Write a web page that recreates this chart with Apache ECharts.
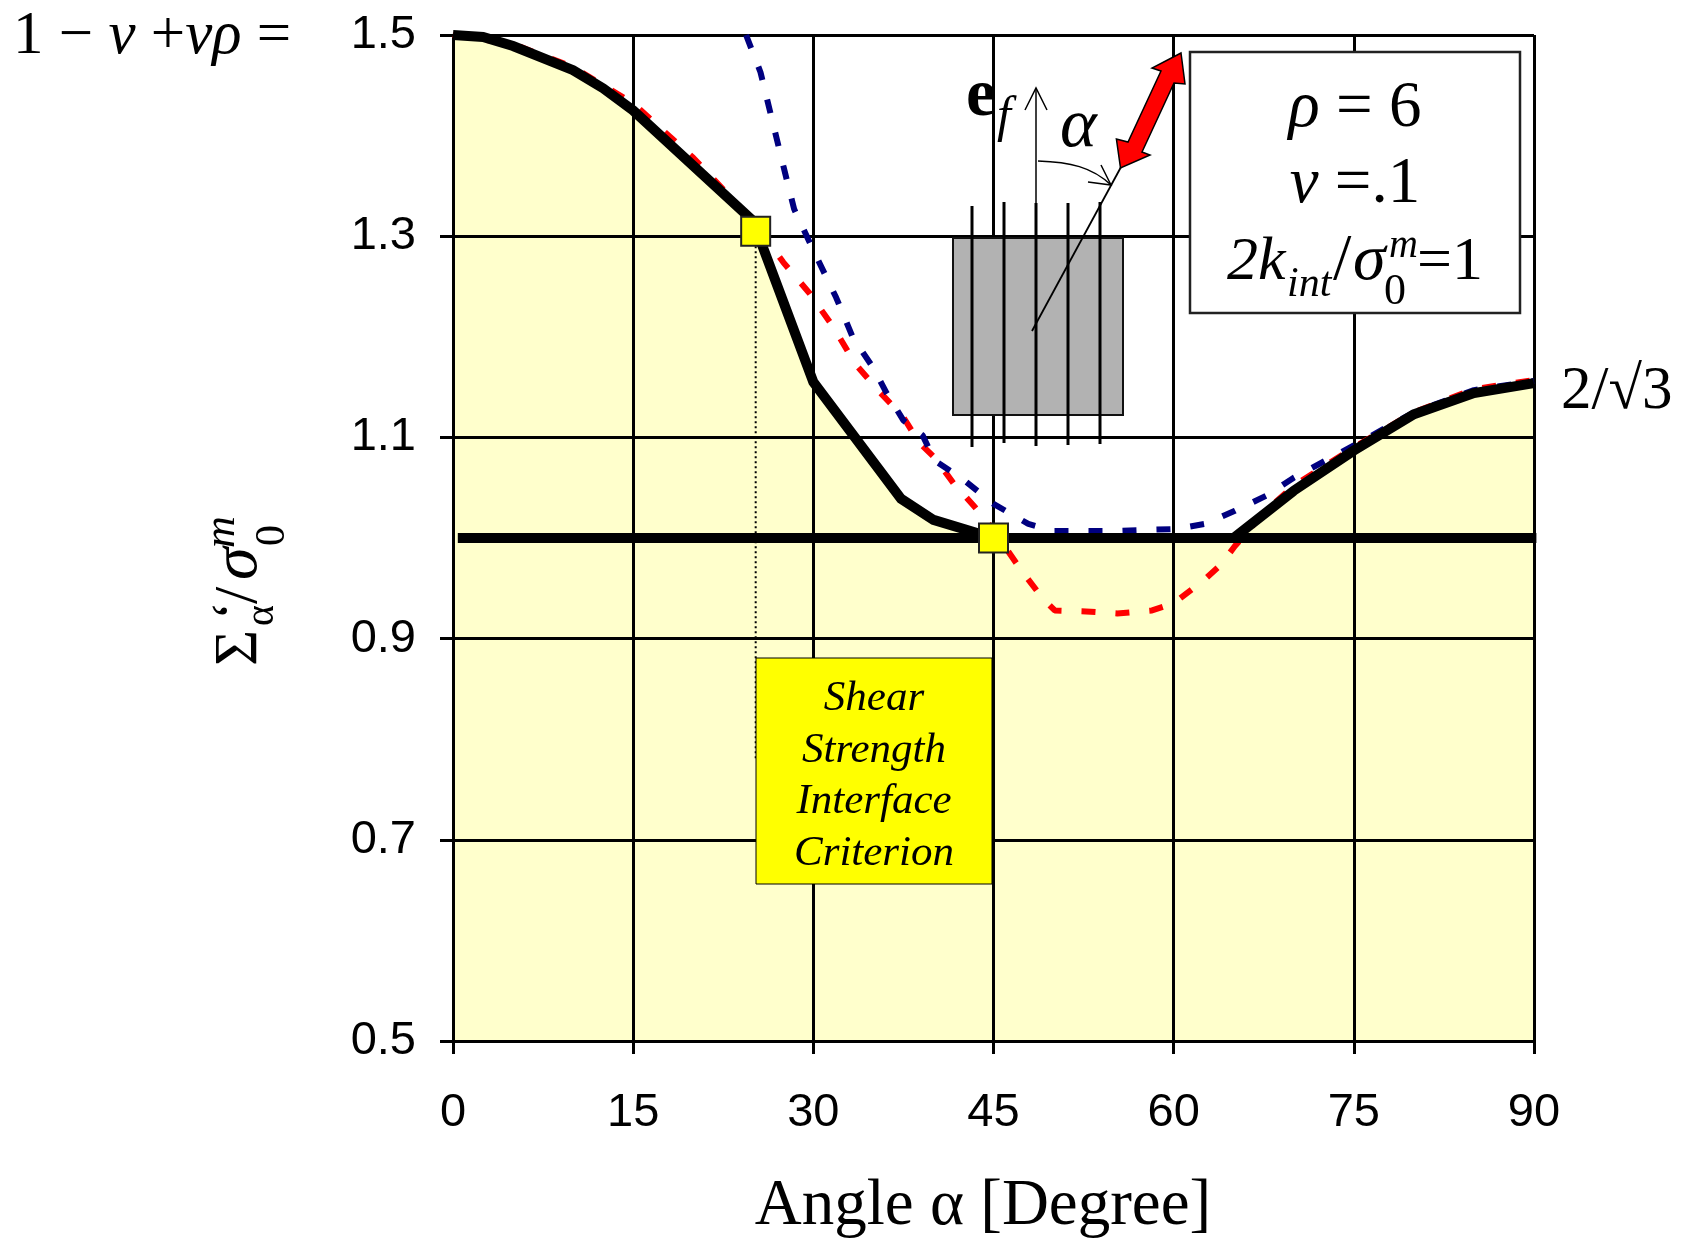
<!DOCTYPE html>
<html><head><meta charset="utf-8">
<style>html,body{margin:0;padding:0;background:#fff}#c{width:1683px;height:1238px}</style>
<script src="https://cdn.jsdelivr.net/npm/echarts@6/dist/echarts.min.js"></script>
</head><body><div id="c"></div>
<script>
const xTicks = [0, 15, 30, 45, 60, 75, 90];
const yTicks = [0.5, 0.7, 0.9, 1.1, 1.3, 1.5];
const blackAngles = [0, 2.5, 5, 10, 12.5, 15, 20, 25, 25.3, 30, 37.3, 40, 45, 65, 70, 75, 80, 85, 90];
const blackValues = [1.5, 1.498, 1.489, 1.465, 1.447, 1.425, 1.37, 1.315, 1.305, 1.155, 1.039, 1.018, 1.0, 1.0, 1.047, 1.087, 1.123, 1.144, 1.154];
const redAngles = [0, 5, 10, 15, 20, 25, 27.5, 29.7, 31.7, 33.5, 35.3, 37.5, 38.8, 40.1, 41.7, 43.5, 45, 47.3, 49.1, 50.1, 52.7, 55.3, 58.2, 60, 62.4, 63.9, 65.1, 67.5, 70, 75, 80, 85, 90];
const redValues = [1.5, 1.491, 1.468, 1.432, 1.378, 1.315, 1.274, 1.243, 1.209, 1.173, 1.148, 1.12, 1.095, 1.08, 1.054, 1.03, 1.008, 0.968, 0.94, 0.928, 0.927, 0.925, 0.928, 0.935, 0.957, 0.973, 0.992, 1.025, 1.052, 1.09, 1.125, 1.148, 1.157];
const blueAngles = [24.4, 25.6, 27.5, 28.4, 30, 31.9, 33.3, 35, 36.1, 37.5, 39.1, 40.1, 42.4, 45, 47.9, 50, 55, 60.2, 62.6, 65.1, 67.7, 70, 75, 80, 85, 90];
const blueValues = [1.5, 1.463, 1.37, 1.327, 1.286, 1.239, 1.199, 1.169, 1.144, 1.117, 1.102, 1.077, 1.059, 1.034, 1.014, 1.007, 1.007, 1.009, 1.014, 1.027, 1.042, 1.06, 1.092, 1.125, 1.147, 1.156];
const thresholdAngles = [0.4, 90.2];
const thresholdValues = [1, 1];
const dropAngles = [25.2, 25.2];
const dropValues = [1.305, 0.78];
const pointAngles = [25.2, 45];
const pointValues = [1.305, 1.0];
const boxLines = ['Shear', 'Strength', 'Interface', 'Criterion'];

const zip = (a, b) => a.map((v, i) => [v, b[i]]);
const SERIF = '"Liberation Serif", serif';
const Z = 20;
function t(text, x, base, size, o) {
  o = o || {};
  return { type: 'text', x: x, y: base - 0.3 * size, z: Z + 2, silent: true,
    style: { text: text, font: (o.style || '') + ' ' + (o.weight || '') + ' ' + size + 'px ' + SERIF,
      fill: o.fill || '#000', align: o.align || 'left', verticalAlign: 'middle', rich: o.rich } };
}
function line(x1, y1, x2, y2, w, c) {
  return { type: 'line', z: Z + 1, silent: true, shape: { x1, y1, x2, y2 }, style: { stroke: c || '#000', lineWidth: w } };
}
const I = s => ({ fontStyle: 'italic', fontFamily: '"Liberation Serif"', fontSize: s });
const N = s => ({ fontFamily: '"Liberation Serif"', fontSize: s });

const graphics = [
  { type: 'text', x: 13, y: 37, z: Z, style: { text: '{n|1 − }{i|v}{n| +}{i|vρ}{n| =}', rich: { n: N(61), i: I(61) }, verticalAlign: 'middle' } },
  { type: 'text', x: 1561, y: 392, z: Z, style: { text: '{n|2/√3}', rich: { n: N(61) }, verticalAlign: 'middle' } },
  t('Angle α [Degree]', 983, 1226, 65, { align: 'center' }),
  { type: 'group', x: 258, y: 666, rotation: Math.PI / 2, children: [
    t('Σ', 0, 0, 62),
    t('α', 40, 16, 40),
    t('‘', 46, -6, 56),
    t('/', 62, 0, 62),
    t('σ', 86, 0, 66, { style: 'italic' }),
    t('0', 120, 28, 42),
    t('m', 118, -22, 44, { style: 'italic' })
  ] },
  { type: 'rect', z: Z, shape: { x: 756, y: 658, width: 236, height: 226 }, style: { fill: '#FFFF00', stroke: '#000', lineWidth: 1 } },
  ...boxLines.map((s, i) => t(s, 874, 712 + i * 51.5, 43, { style: 'italic', align: 'center' })),
  { type: 'rect', z: Z, shape: { x: 953, y: 238, width: 170, height: 177 }, style: { fill: '#B2B2B2', stroke: '#111', lineWidth: 2 } },
  line(972, 206, 972, 447, 3), line(1004, 202, 1004, 443, 3), line(1036, 203, 1036, 446, 3),
  line(1068, 203, 1068, 445, 3), line(1100, 202, 1100, 444, 3),
  line(1036, 88, 1036, 204, 1.5),
  { type: 'polyline', z: Z + 1, shape: { points: [[1025, 110], [1036, 88], [1047, 110]] }, style: { stroke: '#000', fill: null, lineWidth: 1.5 } },
  line(1032, 331, 1121, 167, 1.8),
  { type: 'bezierCurve', z: Z + 1, shape: { x1: 1038, y1: 161, cpx1: 1070, cpy1: 162, cpx2: 1092, cpy2: 167, x2: 1111, y2: 185 }, style: { stroke: '#000', fill: null, lineWidth: 1.5 } },
  { type: 'polyline', z: Z + 1, shape: { points: [[1101, 165], [1111, 185], [1088, 182]] }, style: { stroke: '#000', fill: null, lineWidth: 1.5 } },
  { type: 'polygon', z: Z + 2, shape: { points: [[1181, 53], [1185, 84], [1174, 83], [1142, 152], [1150, 155], [1120.5, 168], [1116.4, 139], [1128, 142], [1161, 71], [1152, 68]] }, style: { fill: '#FF0000', stroke: '#000', lineWidth: 1.5 } },
  t('e', 966, 118, 68, { weight: 'bold' }),
  t('f', 997, 133, 50, { style: 'italic' }),
  t('α', 1060, 149, 70, { style: 'italic' }),
  { type: 'rect', z: Z, shape: { x: 1190, y: 52, width: 330, height: 261 }, style: { fill: '#fff', stroke: '#222', lineWidth: 2.5 } },
  t('{i|ρ}{n| = 6}', 1355, 128, 65, { align: 'center', rich: { i: I(65), n: N(65) } }),
  t('{i|v}{n| =.1}', 1355, 204, 65, { align: 'center', rich: { i: I(65), n: N(65) } }),
  t('2k', 1227, 281, 62, { style: 'italic' }),
  t('int', 1287, 298, 42, { style: 'italic' }),
  t('/', 1333, 281, 66, {}),
  t('σ', 1353, 281, 66, { style: 'italic' }),
  t('m', 1389, 258, 40, { style: 'italic' }),
  t('0', 1384, 306, 44),
  t('=1', 1417, 281, 62)
];

const chart = echarts.init(document.getElementById('c'), null, { renderer: 'canvas' });
const axisLine = { show: true, lineStyle: { color: '#000', width: 3 } };
const split = { show: true, lineStyle: { color: '#000', width: 3 } };
const tick = { show: true, length: 13, lineStyle: { color: '#000', width: 3 } };
const lab = { color: '#000', fontFamily: '"Liberation Sans"', fontSize: 47 };
chart.setOption({
  animation: false,
  backgroundColor: '#fff',
  grid: { left: 453, right: 1683 - 1534, top: 35, bottom: 1238 - 1041 },
  xAxis: { type: 'value', min: 0, max: 90, interval: 15, z: 3, axisLine, splitLine: split, axisTick: tick,
    axisLabel: { ...lab, margin: 49, formatter: v => xTicks.includes(v) ? String(v) : '' } },
  yAxis: { type: 'value', min: 0.5, max: 1.5, interval: 0.2, z: 3, axisLine, splitLine: split, axisTick: tick,
    axisLabel: { ...lab, margin: 37, padding: [6, 0, 0, 0], formatter: v => yTicks.some(y => Math.abs(y - v) < 1e-6) ? v.toFixed(1) : '' } },
  series: [
    { type: 'line', name: 'envelope fill', z: 1, symbol: 'none', silent: true, data: zip(blackAngles, blackValues),
      lineStyle: { width: 0 }, areaStyle: { color: '#FFFFCC', opacity: 1, origin: 'start' } },
    { type: 'line', name: 'drop', z: 4, symbol: 'none', data: zip(dropAngles, dropValues), lineStyle: { color: '#000', width: 2, type: [2, 3] } },
    { type: 'line', name: 'red', z: 5, symbol: 'none', data: zip(redAngles, redValues), lineStyle: { color: '#FF0000', width: 6, type: [14, 20] } },
    { type: 'line', name: 'blue', z: 6, symbol: 'none', data: zip(blueAngles, blueValues), lineStyle: { color: '#000080', width: 6, type: [14, 20] } },
    { type: 'line', name: 'criterion', z: 7, symbol: 'none', data: zip(blackAngles, blackValues), lineStyle: { color: '#000', width: 10, join: 'miter' } },
    { type: 'line', name: 'threshold', z: 7, symbol: 'none', clip: false, data: zip(thresholdAngles, thresholdValues), lineStyle: { color: '#000', width: 10 } },
    { type: 'scatter', name: 'points', z: 8, symbol: 'rect', symbolSize: 29, data: zip(pointAngles, pointValues),
      itemStyle: { color: '#FFFF00', borderColor: '#222', borderWidth: 2, opacity: 1 } }
  ],
  graphic: { elements: graphics }
});
</script></body></html>
